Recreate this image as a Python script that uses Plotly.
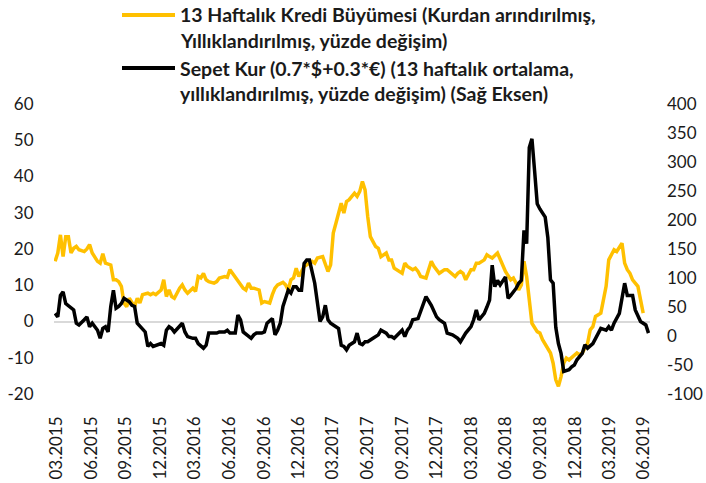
import pandas as pd
import plotly.graph_objects as go

start_date = "2015-02-26"

kredi_weeks = [0, 1, 2, 3, 4, 5, 6, 7, 8, 9, 11, 12, 13, 14, 16, 17, 18, 19, 21, 22, 23, 24, 25, 26, 27, 28, 30, 31, 32, 33,
               35, 36, 37, 38, 40, 41, 42, 43, 44, 45, 47, 48, 49, 50, 52, 53, 54, 55, 56, 57, 58, 60, 61, 62, 64, 65, 66, 67, 69, 70,
               71, 72, 73, 74, 75, 77, 78, 79, 81, 82, 83, 84, 86, 87, 88, 89, 90, 91, 92, 93, 94, 96, 97, 98, 99, 101, 102, 103, 104, 105,
               106, 108, 109, 110, 111, 113, 114, 115, 116, 117, 118, 119, 121, 122, 123, 125, 126, 127, 128, 130, 131, 132, 133, 135, 136, 137, 138, 140,
               141, 142, 143, 145, 146, 147, 148, 150, 151, 152, 153, 154, 155, 157, 158, 159, 160, 162, 163, 164, 165, 167, 168, 169, 170, 172,
               173, 174, 175, 176, 177, 178, 179, 180, 182, 183, 184, 185, 187, 188, 189, 190, 191, 192, 193, 194, 196, 197, 198, 199, 201, 202,
               203, 204, 206, 207, 208, 209, 211, 212, 213, 214, 215, 216, 217, 218, 220, 221, 222]
kredi_values = [16.6, 18.9, 23.9, 17.9, 23.4, 23.4, 18.9, 20.2, 20.7, 19.8, 19.3, 20.0, 21.2, 18.9, 16.6, 16.1, 18.7, 16.1, 15.6, 11.5,
                11.5, 11.0, 9.7, 5.1, 4.1, 6.4, 4.1, 6.4, 5.1, 7.4, 7.8, 7.4, 7.8, 7.4, 8.7, 11.5, 6.9, 8.7, 6.9, 6.4,
                9.2, 10.1, 8.7, 7.8, 9.2, 8.3, 12.4, 12.0, 13.3, 11.5, 11.0, 10.6, 11.0, 12.0, 12.4, 12.2, 14.3, 13.3, 11.5, 10.1,
                9.2, 8.7, 10.6, 9.2, 9.2, 8.7, 5.1, 5.5, 5.1, 7.4, 9.2, 10.1, 10.8, 10.1, 8.7, 11.5, 12.0, 14.7, 12.4, 13.8,
                15.2, 16.1, 16.6, 16.1, 17.5, 17.9, 16.1, 13.8, 15.6, 24.4, 27.1, 32.6, 29.9, 33.1, 33.6, 35.4, 34.5, 35.9, 38.6, 36.3,
                29.0, 23.4, 20.7, 20.2, 17.9, 18.9, 17.0, 17.0, 14.7, 13.8, 13.3, 16.1, 15.2, 14.3, 14.7, 13.8, 12.4, 12.0, 14.7, 16.6,
                15.2, 13.3, 13.8, 14.3, 14.3, 12.9, 12.4, 13.3, 13.8, 13.3, 11.5, 14.3, 14.3, 16.1, 16.1, 17.0, 18.4, 17.9, 17.5, 18.9,
                17.0, 15.2, 13.8, 11.5, 12.0, 10.6, 8.7, 10.1, 16.6, 12.4, 5.1, -0.5, -2.8, -3.2, -5.0, -6.4, -8.7, -11.5, -16.1, -17.9,
                -15.2, -11.5, -10.1, -10.6, -9.2, -8.7, -9.2, -8.7, -6.0, -2.3, -1.4, 1.4, 2.3, 6.0, 9.7, 17.0, 19.8, 19.3, 20.7, 21.6,
                16.1, 14.3, 13.3, 11.5, 9.7, 6.0, 2.3]

kur_weeks = [0, 1, 2, 3, 4, 6, 7, 8, 9, 11, 12, 13, 14, 16, 17, 18, 19, 20, 21, 22, 23, 24, 25, 26, 28, 29, 30, 31, 33, 34,
             35, 36, 37, 38, 40, 41, 42, 43, 44, 45, 47, 48, 49, 50, 52, 53, 54, 55, 56, 57, 58, 60, 61, 62, 64, 65, 66, 67, 68, 69,
             70, 71, 73, 74, 75, 76, 78, 79, 80, 82, 83, 84, 85, 86, 87, 88, 89, 90, 91, 92, 93, 94, 95, 96, 98, 99, 100, 101, 102, 103,
             104, 106, 107, 108, 109, 110, 111, 113, 114, 115, 116, 117, 118, 120, 121, 122, 123, 125, 126, 127, 128, 130, 131, 132, 133, 134, 135, 137, 138, 139,
             140, 142, 144, 145, 147, 148, 150, 152, 153, 155, 157, 158, 159, 160, 162, 163, 164, 165, 166, 167, 168, 170, 171, 172, 174, 175, 176, 177, 178, 179,
             180, 181, 182, 183, 185, 186, 187, 188, 189, 190, 191, 192, 194, 195, 196, 197, 199, 200, 201, 203, 204, 205, 206, 208, 209, 210, 211, 213, 214, 215,
             216, 218, 219, 220, 221, 223, 224]
kur_values = [39, 33, 70, 76, 56, 48, 45, 22, 19, 28, 33, 16, 22, 10, -4, 13, 16, 7, 51, 79, 48, 51, 56, 65, 59, 53, 51, 22, 13, 7,
              -18, -13, -18, -16, -13, -16, 10, 16, 13, 7, 16, 22, 7, -1, -4, -4, -13, -18, -21, -16, 5, 5, 5, 7, 7, 10, 5, 5, 5, 36,
              28, 7, -1, -4, 2, 5, 5, 7, 22, 30, 2, 10, 22, 51, 65, 79, 74, 85, 85, 79, 79, 125, 131, 131, 91, 56, 25, 33, 53, 28,
              22, 16, 13, -16, -18, -24, -16, -10, 5, -13, -15, -10, -10, -4, -1, 2, 10, 5, -1, -1, -4, 5, 10, -1, 10, 16, 28, 30, 42, 56,
              68, 53, 33, 28, 22, 5, 2, -4, -10, 5, 16, 28, 45, 28, 39, 50, 62, 122, 85, 96, 88, 102, 65, 70, 82, 91, 96, 182, 159, 325,
              340, 285, 228, 219, 205, 170, 97, 91, 15, -13, -30, -61, -58, -53, -50, -41, -30, -15, -21, -13, -4, 5, 13, 10, 16, 10, 22, 39, 62, 91,
              70, 70, 45, 33, 25, 19, 5]

tick_dates = ["2015-03-01", "2015-06-01", "2015-09-01", "2015-12-01", "2016-03-01", "2016-06-01",
              "2016-09-01", "2016-12-01", "2017-03-01", "2017-06-01", "2017-09-01", "2017-12-01",
              "2018-03-01", "2018-06-01", "2018-09-01", "2018-12-01", "2019-03-01", "2019-06-01"]
tick_labels = ["03.2015", "06.2015", "09.2015", "12.2015", "03.2016", "06.2016",
               "09.2016", "12.2016", "03.2017", "06.2017", "09.2017", "12.2017",
               "03.2018", "06.2018", "09.2018", "12.2018", "03.2019", "06.2019"]

left_ticks = [-20, -10, 0, 10, 20, 30, 40, 50, 60]
left_labels = ["-20", "-10", "0", "10", "20", "30", "40", "50", "60"]
right_ticks = [-100, -50, 0, 50, 100, 150, 200, 250, 300, 350, 400]
right_labels = ["-100", "-50", "0", "50", "100", "150", "200", "250", "300", "350", "400"]

legend_lines_kredi = ["13 Haftalık Kredi Büyümesi (Kurdan arındırılmış,",
                      "Yıllıklandırılmış, yüzde değişim)"]
legend_lines_kur = ["Sepet Kur (0.7*$+0.3*€) (13 haftalık ortalama,",
                    "yıllıklandırılmış, yüzde değişim) (Sağ Eksen)"]

base = pd.Timestamp(start_date)
kredi_dates = [base + pd.Timedelta(weeks=w) for w in kredi_weeks]
kur_dates = [base + pd.Timedelta(weeks=w) for w in kur_weeks]

FONT = "Lato, 'Open Sans', sans-serif"
TXT = "#1a1a1a"
YELLOW = "#FFC000"
BLACK = "#000000"

W, H = 706, 483
ML, MR, MT, MB = 54, 56, 104, 89
PW, PH = W - ML - MR, H - MT - MB


def px(xpix):
    return (xpix - ML) / PW


def py(ypix):
    return (H - MB - ypix) / PH


fig = go.Figure()
fig.add_trace(go.Scatter(x=kredi_dates, y=kredi_values, mode="lines", name=" ".join(legend_lines_kredi),
                         line=dict(color=YELLOW, width=3.5), showlegend=False))
fig.add_trace(go.Scatter(x=kur_dates, y=kur_values, mode="lines", name=" ".join(legend_lines_kur), yaxis="y2",
                         line=dict(color=BLACK, width=3.5), showlegend=False))

# manual legend (line samples + bold two-line labels)
shapes = []
annotations = []
for color, lines, ytop in [(YELLOW, legend_lines_kredi, 15), (BLACK, legend_lines_kur, 68)]:
    shapes.append(dict(type="line", xref="paper", yref="paper", x0=px(122), x1=px(175),
                       y0=py(ytop), y1=py(ytop), line=dict(color=color, width=4)))
    for i, txt in enumerate(lines):
        annotations.append(dict(xref="paper", yref="paper", x=px(178), y=py(ytop + 26 * i),
                                xanchor="left", yanchor="middle", showarrow=False,
                                text="<b>" + txt + "</b>",
                                font=dict(family=FONT, size=19.5, color=TXT)))

fig.update_layout(
    width=W, height=H,
    margin=dict(l=ML, r=MR, t=MT, b=MB, autoexpand=False),
    paper_bgcolor="white", plot_bgcolor="white",
    font=dict(family=FONT, color=TXT),
    showlegend=False,
    hovermode=False,
    shapes=shapes,
    annotations=annotations,
    xaxis=dict(type="date", range=["2015-02-23", "2019-06-17"],
               tickmode="array", tickvals=tick_dates, ticktext=tick_labels,
               tickangle=-90, tickfont=dict(size=17, color=TXT), ticklabelstandoff=18,
               showgrid=False, zeroline=False, showline=False, ticks="", automargin=False),
    yaxis=dict(range=[-20, 60], tickmode="array", tickvals=left_ticks, ticktext=left_labels,
               tickfont=dict(size=17, color=TXT), showgrid=False,
               ticks="outside", ticklen=16, tickcolor="rgba(0,0,0,0)",
               zeroline=True, zerolinecolor="#d9d9d9", zerolinewidth=2,
               showline=False, automargin=False),
    yaxis2=dict(range=[-100, 400], tickmode="array", tickvals=right_ticks, ticktext=right_labels,
                overlaying="y", side="right", tickfont=dict(size=17, color=TXT), ticklabelstandoff=16,
                showgrid=False, zeroline=False, showline=False, ticks="", automargin=False),
)

fig.write_html("out.html", config={"displayModeBar": False, "staticPlot": True},
               post_script="document.body.style.margin='0px';document.body.style.overflow='hidden';")
